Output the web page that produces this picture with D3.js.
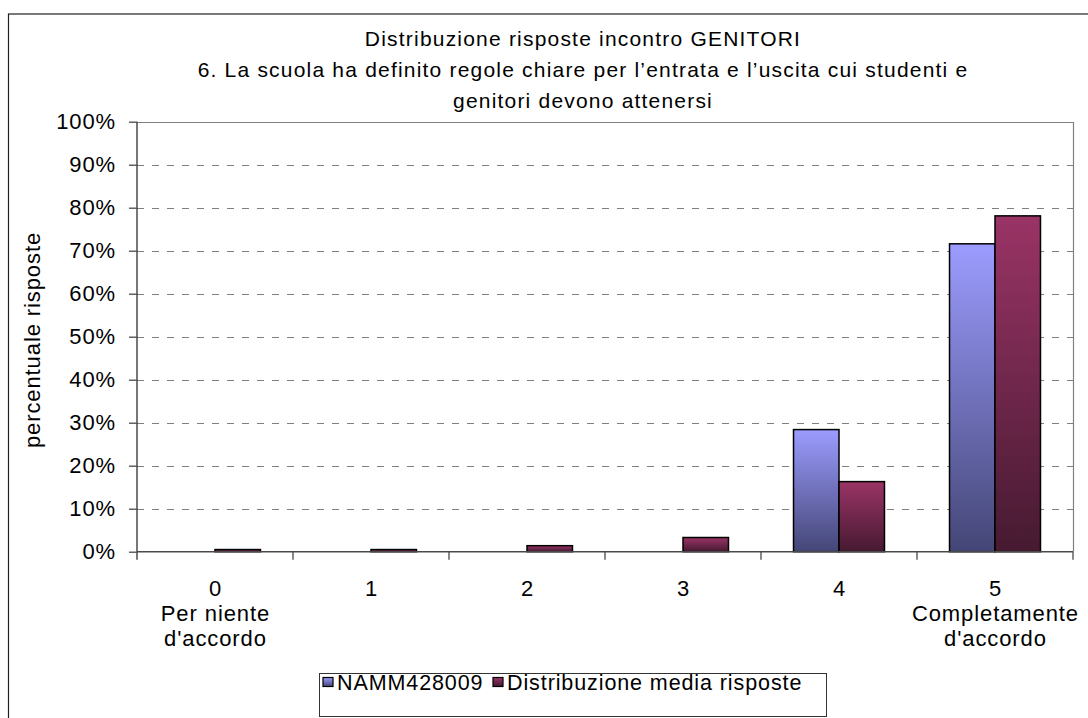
<!DOCTYPE html>
<html><head><meta charset="utf-8">
<script src="https://cdn.jsdelivr.net/npm/d3@7"></script>
<style>
html,body{margin:0;padding:0;background:#fff;}
svg{display:block;font-family:"Liberation Sans",Arial,sans-serif;}
</style></head>
<body>
<svg id="c" width="1088" height="718"></svg>
<script>
const categories = ["0","1","2","3","4","5"];
const subLabels = [["Per niente","d'accordo"],[],[],[],[],["Completamente","d'accordo"]];
const seriesNames = ["NAMM428009","Distribuzione media risposte"];
const seriesSchool = [0,0,0,0,28.4,71.6];
const seriesMean = [0.5,0.5,1.4,3.3,16.3,78.1];
const yTicks = [0,10,20,30,40,50,60,70,80,90,100];
const titleLines = ["Distribuzione risposte incontro GENITORI","6. La scuola ha definito regole chiare per l\u2019entrata e l\u2019uscita cui studenti e","genitori devono attenersi"];
const yTitle = "percentuale risposte";

(function(){
const svg = d3.select("#c");
const defs = svg.append("defs");
function grad(id, c0, c1){
  const g = defs.append("linearGradient").attr("id",id).attr("x1",0).attr("y1",0).attr("x2",0).attr("y2",1);
  g.append("stop").attr("offset","0%").attr("stop-color",c0);
  g.append("stop").attr("offset","100%").attr("stop-color",c1);
}
grad("gBlue","#9c9cff","#444676");
grad("gRed","#9a3466","#461a31");
const fills = ["url(#gBlue)","url(#gRed)"];
const FS = 22, LS = 0.9;

// outer chart frame (extends past the window)
svg.append("rect").attr("x",8.5).attr("y",14).attr("width",1100).attr("height",720)
  .attr("fill","#fff").attr("stroke","#222").attr("stroke-width",1.2);

const pL=137, pR=1073, pT=121.7, pB=551.7;
const x = d3.scaleBand().domain(categories).range([pL,pR]).paddingInner(0).paddingOuter(0);
const y = d3.scaleLinear().domain([0,100]).range([pB,pT]);
const x1 = d3.scaleBand().domain([0,1]).range([0,x.bandwidth()]).paddingInner(0).paddingOuter(0.715);

// gridlines
svg.append("g").selectAll("line").data(yTicks.filter(t=>t>0&&t<100)).join("line")
  .attr("x1",pL).attr("x2",pR).attr("y1",d=>Math.round(y(d))+0.5).attr("y2",d=>Math.round(y(d))+0.5)
  .attr("stroke","#808080").attr("stroke-width",1).attr("stroke-dasharray","7,8");
// plot border top/right
svg.append("path").attr("d",`M${pL},${Math.round(pT)+0.5}H${pR+0.5}V${pB}`)
  .attr("fill","none").attr("stroke","#808080").attr("stroke-width",1.2);

// bars
const data = [seriesSchool, seriesMean];
categories.forEach((c,i)=>{
  data.forEach((s,k)=>{
    const v = s[i];
    if(v<=0) return;
    svg.append("rect")
      .attr("x", x(c)+x1(k)).attr("width", x1.bandwidth())
      .attr("y", y(v)).attr("height", y(0)-y(v))
      .attr("fill", fills[k]).attr("stroke","#000").attr("stroke-width",1.5);
  });
});

// y axis
const yAxis = d3.axisLeft(y).tickValues(yTicks).tickSize(8).tickPadding(13).tickFormat(d=>d+"%");
const gy = svg.append("g").attr("transform",`translate(${pL},0)`).call(yAxis);
gy.select(".domain").attr("d",`M0,${pT}V${pB+8}`).attr("stroke","#4a4a4a").attr("stroke-width",1.5);
gy.selectAll(".tick line").attr("stroke","#4a4a4a").attr("stroke-width",1.3);
gy.selectAll(".tick text").attr("font-size",FS).attr("letter-spacing",LS).attr("fill","#000")
  .attr("font-family","Liberation Sans, Arial, sans-serif");

// x axis
const gx = svg.append("g").attr("transform",`translate(0,${pB})`);
gx.append("line").attr("x1",pL).attr("x2",pR).attr("y1",0).attr("y2",0).attr("stroke","#4a4a4a").attr("stroke-width",1.5);
const bounds = categories.map(c=>x(c)).concat([pR]);
gx.selectAll("line.t").data(bounds.slice(1)).join("line").attr("class","t")
  .attr("x1",d=>d).attr("x2",d=>d).attr("y1",0).attr("y2",8).attr("stroke","#4a4a4a").attr("stroke-width",1.3);
categories.forEach((c,i)=>{
  const lines=[c].concat(subLabels[i]);
  const cx = x(c)+x.bandwidth()/2 + LS/2;
  lines.forEach((t,j)=>{
    gx.append("text").attr("x",cx).attr("y",44.5+j*24.7).attr("text-anchor","middle")
      .attr("font-size",FS).attr("letter-spacing",LS).attr("fill","#000").text(t);
  });
});

// y title
svg.append("text").attr("transform",`translate(40,${340}) rotate(-90)`)
  .attr("text-anchor","middle").attr("font-size",FS).attr("letter-spacing",LS).text(yTitle);

// title
titleLines.forEach((t,j)=>{
  svg.append("text").attr("x",583).attr("y",45.7+j*31).attr("text-anchor","middle")
    .attr("font-size",21).attr("letter-spacing",1.2).attr("fill","#000").text(t);
});

// legend
const lg = svg.append("g");
lg.append("rect").attr("x",319.5).attr("y",673.5).attr("width",507).attr("height",43)
  .attr("fill","#fff").attr("stroke","#333").attr("stroke-width",1);
const legendX = [[323,337],[493,507]];
seriesNames.forEach((n,k)=>{
  lg.append("rect").attr("x",legendX[k][0]).attr("y",677.5).attr("width",10).attr("height",9)
    .attr("fill",fills[k]).attr("stroke","#000").attr("stroke-width",1.2);
  lg.append("text").attr("x",legendX[k][1]).attr("y",689.5).attr("font-size",21.5).attr("letter-spacing",0.9).text(n);
});
})();
</script>
</body></html>
